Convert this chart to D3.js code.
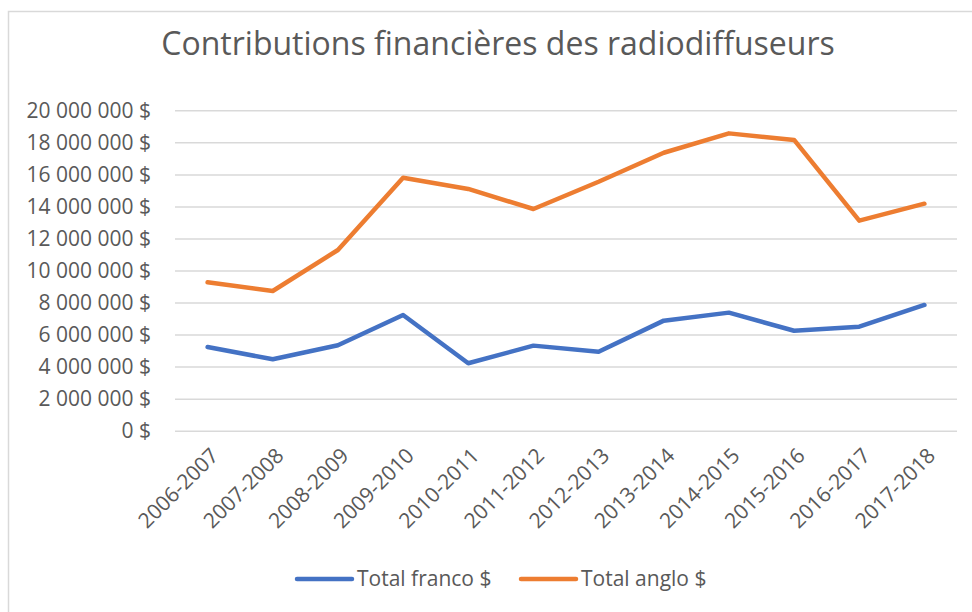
<!DOCTYPE html>
<html>
<head>
<meta charset="utf-8">
<script src="https://cdn.jsdelivr.net/npm/d3@7"></script>
<style>
  body { margin: 0; background: #fff; }
  text { font-family: "Open Sans", "DejaVu Sans", sans-serif; fill: #595959; }
</style>
</head>
<body>
<div id="chart"></div>
<script>
(function (d3) {
    'use strict';

    var years = ['2006-2007', '2007-2008', '2008-2009', '2009-2010', '2010-2011', '2011-2012',
                 '2012-2013', '2013-2014', '2014-2015', '2015-2016', '2016-2017', '2017-2018'];
    var franco = [5220000, 4460000, 5330000, 7220000, 4210000, 5310000,
                  4930000, 6870000, 7370000, 6240000, 6490000, 7850000];
    var anglo = [9260000, 8720000, 11280000, 15790000, 15090000, 13840000,
                 15540000, 17350000, 18560000, 18150000, 13110000, 14170000];
    var yTicks = [0, 2000000, 4000000, 6000000, 8000000, 10000000,
                  12000000, 14000000, 16000000, 18000000, 20000000];
    var series = [
        { name: 'Total franco $', values: franco, color: '#4472c4' },
        { name: 'Total anglo $', values: anglo, color: '#ed7d31' }
    ];

    var W = 972, H = 612,
        left = 175, right = 957, top = 110.3, bottom = 430.7;

    var svg = d3.select('#chart').append('svg')
        .attr('width', W)
        .attr('height', H);

    // cadre du graphique (bords droit et bas hors image)
    svg.append('rect')
        .attr('x', 8.5).attr('y', 11.5)
        .attr('width', 1000).attr('height', 700)
        .attr('fill', '#fff')
        .attr('stroke', '#d9d9d9')
        .attr('stroke-width', 1.5);

    svg.append('text')
        .attr('x', 498).attr('y', 55)
        .attr('text-anchor', 'middle')
        .style('font-size', '32px')
        .text('Contributions financières des radiodiffuseurs');

    var x = d3.scaleBand().domain(years).range([left, right]);
    var y = d3.scaleLinear().domain([0, 20000000]).range([bottom, top]);

    var fmt = function (v) {
        return d3.format(',')(v).replace(/,/g, ' ') + ' $';
    };

    var yAxis = svg.append('g')
        .attr('transform', 'translate(' + left + ',0)')
        .call(d3.axisLeft(y).tickValues(yTicks).tickSize(-(right - left)).tickPadding(24).tickFormat(fmt));
    yAxis.select('.domain').remove();
    yAxis.selectAll('line').attr('stroke', '#d9d9d9').attr('stroke-width', 1.5);
    yAxis.selectAll('text').style('font-size', '21px').attr('fill', '#595959');

    var xAxis = svg.append('g')
        .attr('transform', 'translate(0,' + bottom + ')')
        .call(d3.axisBottom(x).tickSize(0).tickPadding(0));
    xAxis.select('.domain').remove();
    xAxis.selectAll('text')
        .style('font-size', '21px')
        .attr('fill', '#595959')
        .attr('text-anchor', 'end')
        .attr('dy', '0.35em')
        .attr('transform', 'translate(7,21) rotate(-45)');

    var line = d3.line()
        .x(function (d, i) { return x(years[i]) + x.bandwidth() / 2; })
        .y(function (d) { return y(d); });

    svg.selectAll('path.serie')
        .data(series)
        .enter()
        .append('path')
        .attr('class', 'serie')
        .attr('d', function (s) { return line(s.values); })
        .attr('fill', 'none')
        .attr('stroke', function (s) { return s.color; })
        .attr('stroke-width', 4.5)
        .attr('stroke-linejoin', 'round')
        .attr('stroke-linecap', 'round');

    // légende
    var legendX = [297, 521];
    var legend = svg.selectAll('g.legend')
        .data(series)
        .enter()
        .append('g')
        .attr('class', 'legend')
        .attr('transform', function (s, i) { return 'translate(' + legendX[i] + ',579)'; });
    legend.append('line')
        .attr('x1', 0).attr('x2', 55)
        .attr('stroke', function (s) { return s.color; })
        .attr('stroke-width', 4.5)
        .attr('stroke-linecap', 'round');
    legend.append('text')
        .attr('x', 60).attr('dy', '0.35em')
        .style('font-size', '21px')
        .text(function (s) { return s.name; });

})(d3);
</script>
</body>
</html>
